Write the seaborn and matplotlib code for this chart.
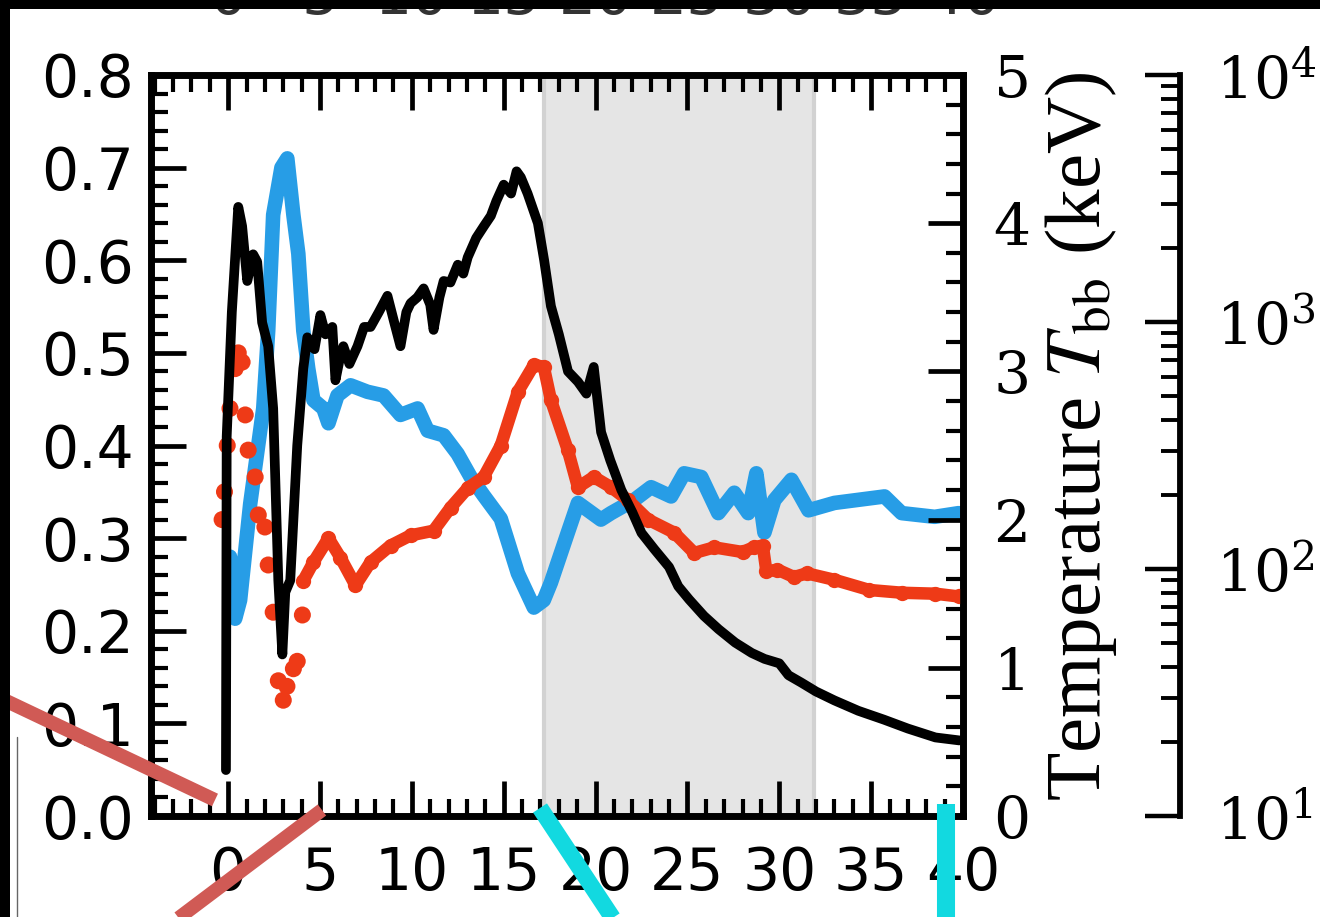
import matplotlib
matplotlib.use("Agg")
import matplotlib.pyplot as plt
import matplotlib.transforms as mtransforms
import numpy as np
import pandas as pd
import seaborn as sns
from matplotlib.lines import Line2D
from matplotlib.patches import Rectangle
from matplotlib.ticker import MultipleLocator, LogLocator, NullFormatter

sns.set_style("ticks")
plt.rcParams["font.family"] = ["DejaVu Sans"]
plt.rcParams["mathtext.fontset"] = "dejavuserif"
for key in ("axes.edgecolor", "xtick.color", "ytick.color", "text.color",
            "axes.labelcolor"):
    plt.rcParams[key] = "black"

# ---- data -------------------------------------------------------------
# blackbody temperature (keV), right axis
black_t = [-0.12, -0.08, 0.2, 0.55, 0.76, 1.04, 1.36, 1.58, 1.85, 2.18, 2.45, 2.73,
           2.95, 3.11, 3.38, 3.76, 4.09, 4.31, 4.7, 5.02, 5.3, 5.67, 5.84, 6.1,
           6.27, 6.6, 7.04, 7.4, 7.75, 8.2, 8.67, 9.0, 9.38, 9.7, 9.93, 10.3,
           10.64, 11.0, 11.18, 11.5, 11.73, 12.1, 12.5, 12.8, 13.04, 13.5, 13.92,
           14.3, 14.6, 15.0, 15.4, 15.7, 15.93, 16.3, 16.86, 17.2, 17.57, 18.0,
           18.5, 19.04, 19.5, 19.9, 20.3, 20.8, 21.4, 22.0, 22.5, 23.2, 24.0,
           24.5, 25.1, 25.9, 26.7, 27.6, 28.5, 29.2, 30.0, 30.5, 31.2, 32.0,
           33.0, 34.3, 35.7, 37.0, 38.5, 39.8]
black_kev = [0.31, 2.56, 3.4, 4.11, 3.98, 3.61, 3.79, 3.74, 3.33, 3.17, 2.75, 1.59,
             1.09, 1.51, 1.59, 2.5, 3.02, 3.23, 3.15, 3.38, 3.25, 3.30, 2.94, 3.1,
             3.17, 3.05, 3.17, 3.3, 3.30, 3.4, 3.51, 3.35, 3.17, 3.4, 3.46, 3.5,
             3.56, 3.45, 3.28, 3.5, 3.61, 3.6, 3.72, 3.66, 3.77, 3.9, 3.98,
             4.05, 4.15, 4.26, 4.2, 4.35, 4.31, 4.2, 4.0, 3.75, 3.44, 3.25,
             3.0, 2.93, 2.85, 3.03, 2.59, 2.4, 2.2, 2.05, 1.91, 1.8, 1.68,
             1.55, 1.46, 1.35, 1.26, 1.17, 1.1, 1.06, 1.03, 0.95, 0.9, 0.84,
             0.78, 0.71, 0.65, 0.59, 0.53, 0.51]

# blue fraction, left axis
blue_t = [0.1, 0.38, 0.65, 1.2, 1.91, 2.18, 2.45, 2.9, 3.22, 3.55, 3.82, 4.09,
          4.36, 4.64, 5.18, 5.46, 5.95, 6.66, 7.58, 8.46, 9.38, 10.31, 10.86,
          11.73, 12.49, 13.2, 13.91, 14.84, 15.77, 16.64, 17.18, 17.57, 18.49,
          19.04, 20.29, 20.84, 22.09, 23.02, 24.11, 24.82, 25.75, 26.68, 27.55,
          28.31, 28.75, 29.19, 29.73, 30.66, 31.59, 33.0, 35.73, 36.66, 38.46, 39.77]
blue_v = [0.28, 0.213, 0.233, 0.337, 0.44, 0.524, 0.649, 0.70, 0.71, 0.649, 0.607,
          0.524, 0.483, 0.449, 0.44, 0.424, 0.454, 0.465, 0.458, 0.454, 0.433,
          0.44, 0.416, 0.411, 0.391, 0.366, 0.346, 0.321, 0.262, 0.225, 0.233,
          0.252, 0.306, 0.338, 0.32, 0.327, 0.341, 0.355, 0.345, 0.37, 0.366,
          0.327, 0.349, 0.327, 0.37, 0.306, 0.341, 0.363, 0.33, 0.338, 0.345,
          0.327, 0.323, 0.327]

# red fraction, left axis: sparse early points, then the continuous track
red_early_t = [-0.33, -0.2, -0.05, 0.1, 0.38, 0.55, 0.76, 0.93, 1.09, 1.47, 1.64,
               2.0, 2.18, 2.45, 2.73, 3.0, 3.2, 3.55, 3.76, 4.04]
red_early_v = [0.32, 0.35, 0.40, 0.44, 0.483, 0.5, 0.49, 0.433, 0.395, 0.366,
               0.325, 0.312, 0.271, 0.22, 0.146, 0.125, 0.14, 0.159, 0.167, 0.217]
red_t = [4.09, 4.64, 5.46, 6.11, 6.93, 7.75, 8.84, 9.93, 11.18, 12.11, 13.04,
         13.91, 14.84, 15.77, 16.64, 17.18, 17.57, 18.49, 19.04, 19.9, 20.84,
         21.77, 22.86, 24.27, 25.37, 26.46, 28.0, 28.6, 29.1, 29.3, 29.9, 30.8,
         31.5, 33.0, 34.9, 36.7, 38.5, 39.77]
red_v = [0.254, 0.274, 0.30, 0.279, 0.249, 0.274, 0.292, 0.303, 0.308, 0.333,
         0.354, 0.366, 0.40, 0.458, 0.487, 0.485, 0.449, 0.395, 0.355, 0.366,
         0.355, 0.341, 0.32, 0.306, 0.284, 0.29, 0.285, 0.29, 0.292, 0.264,
         0.266, 0.258, 0.262, 0.255, 0.244, 0.241, 0.24, 0.237]

shade_span = (17.2, 31.9)
x_ticks = [0, 5, 10, 15, 20, 25, 30, 35, 40]

black_df = pd.DataFrame({"t": black_t, "T": black_kev})
blue_df = pd.DataFrame({"t": blue_t, "v": blue_v})
red_df = pd.DataFrame({"t": red_t, "v": red_v})
red_early_df = pd.DataFrame({"t": red_early_t, "v": red_early_v})

C_BLUE = "#279de6"
C_RED = "#ee3a17"
TICK_FS = 42

W, H = 1320, 917
fig = plt.figure(figsize=(W / 100, H / 100), dpi=100)
fig.patch.set_facecolor("white")


def fx(px):
    return px / W


def fy(py):
    return 1 - py / H


ax = fig.add_axes([fx(151), fy(816), fx(963) - fx(151), fy(75) - fy(816)])
ax.set_facecolor("white")

ax.axvspan(*shade_span, facecolor="#e5e5e5", edgecolor="#d2d2d2", lw=3, zorder=0)

sns.lineplot(data=blue_df, x="t", y="v", ax=ax, color=C_BLUE, lw=10.5,
             sort=False, estimator=None, zorder=2, legend=False)
sns.scatterplot(data=red_early_df, x="t", y="v", ax=ax, color=C_RED, s=150,
                edgecolor="none", zorder=3, legend=False)
sns.lineplot(data=red_df, x="t", y="v", ax=ax, color=C_RED, lw=9, marker="o",
             markersize=11, markeredgewidth=0, sort=False, estimator=None,
             zorder=3, legend=False)

ax.set_xlim(-4.2, 40)
ax.set_ylim(0, 0.8)
ax.set_xlabel("")
ax.set_ylabel("")
ax.xaxis.set_major_locator(MultipleLocator(5))
ax.xaxis.set_minor_locator(MultipleLocator(1))
ax.yaxis.set_major_locator(MultipleLocator(0.1))
ax.yaxis.set_minor_locator(MultipleLocator(0.02))
ax.tick_params(which="major", direction="in", length=25, width=3.4,
               labelsize=TICK_FS, top=True, right=False)
ax.tick_params(which="minor", direction="in", length=12, width=3,
               top=True, right=False)
ax.tick_params(axis="x", which="major", pad=21)
ax.tick_params(axis="y", which="major", pad=12)
for s in ax.spines.values():
    s.set_linewidth(4.8)

# temperature axis
ax2 = ax.twinx()
sns.lineplot(data=black_df, x="t", y="T", ax=ax2, color="black", lw=7,
             sort=False, estimator=None, zorder=4, legend=False)
ax2.set_ylim(0, 5)
ax2.set_ylabel("")
ax2.yaxis.set_major_locator(MultipleLocator(1))
ax2.yaxis.set_minor_locator(MultipleLocator(0.2))
ax2.tick_params(axis="y", which="major", direction="in", length=25, width=3.4,
                labelsize=TICK_FS, pad=22, labelfontfamily="DejaVu Serif")
ax2.tick_params(axis="y", which="minor", direction="in", length=12, width=3)
for s in ax2.spines.values():
    s.set_linewidth(4.8)

# outer logarithmic axis
ax3 = ax.twinx()
ax3.spines["right"].set_position(("axes", (1180 - 151) / (963 - 151)))
for k in ("left", "top", "bottom"):
    ax3.spines[k].set_visible(False)
ax3.spines["right"].set_linewidth(4.2)
ax3.set_yscale("log")
ax3.set_ylim(10, 1e4)
ax3.yaxis.set_major_locator(LogLocator(base=10))
ax3.yaxis.set_minor_locator(LogLocator(base=10, subs=np.arange(2, 10)))
ax3.yaxis.set_minor_formatter(NullFormatter())
ax3.tick_params(axis="y", which="major", direction="in", length=25, width=3.2,
                labelsize=TICK_FS, pad=26, labelfontfamily="DejaVu Serif")
ax3.tick_params(axis="y", which="minor", direction="in", length=14, width=2.8)
ax3.patch.set_visible(False)

fig.text(fx(1081), fy(436), r"Temperature $T_{\rm bb}$ (keV)", rotation=90,
         ha="center", va="center", fontsize=57, family="Liberation Serif",
         math_fontfamily="stix")

# tick labels of the panel above, cut by the frame edge
blend = mtransforms.blended_transform_factory(ax.transData, fig.transFigure)
for v in x_ticks:
    fig.text(v, fy(14), str(v), transform=blend, ha="center", va="baseline",
             fontsize=TICK_FS, color="#333333")

# frame edges
fig.add_artist(Rectangle((0, fy(9)), 1, 9 / H, transform=fig.transFigure,
                         facecolor="black", edgecolor="none", zorder=20))
fig.add_artist(Rectangle((0, 0), fx(10), 1, transform=fig.transFigure,
                         facecolor="black", edgecolor="none", zorder=20))
fig.add_artist(Line2D([fx(17), fx(17)], [fy(737), 0], transform=fig.transFigure,
                      color="#666666", lw=1, zorder=20))

# connector strokes
C_CONN_R = "#d05a55"
C_CONN_C = "#12d9e0"
for (x0, y0, x1, y1, c, w) in [
    (0, 698, 215, 800, C_CONN_R, 10),
    (322, 810, 176, 920, C_CONN_R, 10),
    (540, 808, 614, 920, C_CONN_C, 12),
    (946, 804, 946, 920, C_CONN_C, 13),
]:
    fig.add_artist(Line2D([fx(x0), fx(x1)], [fy(y0), fy(y1)],
                          transform=fig.transFigure, color=c, lw=w,
                          solid_capstyle="butt", zorder=15))

fig.savefig("out.png", dpi=100, facecolor="white")
